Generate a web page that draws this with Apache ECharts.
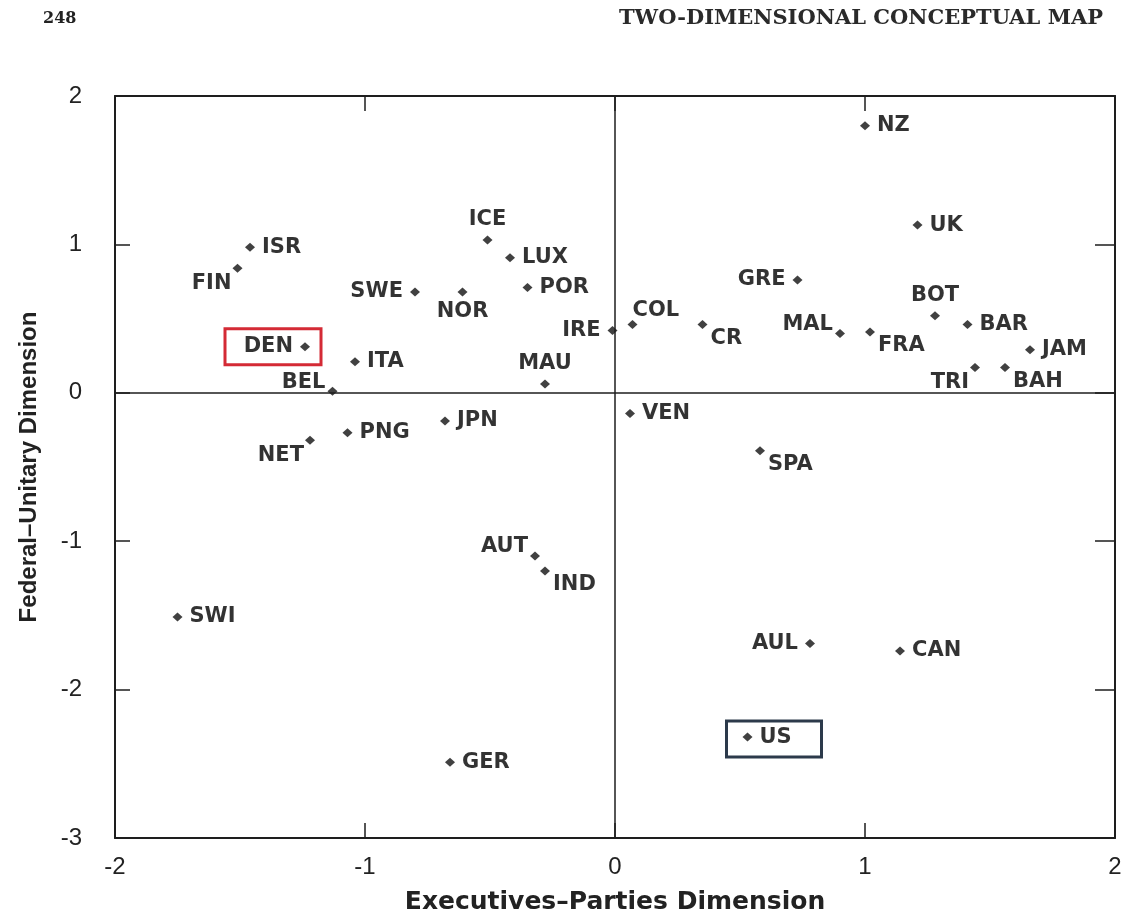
<!DOCTYPE html>
<html>
<head>
<meta charset="utf-8">
<script src="https://cdn.jsdelivr.net/npm/echarts@6/dist/echarts.min.js"></script>
<style>
html,body{margin:0;padding:0;background:#fff;}
#chart{width:1126px;height:916px;}
</style>
</head>
<body>
<div id="chart"></div>
<script>
// ---- data ----
const countries = ['NZ','UK','ICE','LUX','ISR','FIN','SWE','NOR','POR','GRE','BOT','COL','IRE','CR','MAL','FRA','BAR','JAM','TRI','BAH','DEN','ITA','BEL','MAU','VEN','JPN','PNG','NET','SPA','AUT','IND','SWI','AUL','CAN','US','GER'];
const execParties = [1.00,1.21,-0.51,-0.42,-1.46,-1.51,-0.80,-0.61,-0.35,0.73,1.28,0.07,-0.01,0.35,0.90,1.02,1.41,1.66,1.44,1.56,-1.24,-1.04,-1.13,-0.28,0.06,-0.68,-1.07,-1.22,0.58,-0.32,-0.28,-1.75,0.78,1.14,0.53,-0.66];
const fedUnitary = [1.80,1.13,1.03,0.91,0.98,0.84,0.68,0.68,0.71,0.76,0.52,0.46,0.42,0.46,0.40,0.41,0.46,0.29,0.17,0.17,0.31,0.21,0.01,0.06,-0.14,-0.19,-0.27,-0.32,-0.39,-1.10,-1.20,-1.51,-1.69,-1.74,-2.32,-2.49];
const labelSide = ['R','R','T','R','R','BL','L','B','R','L','T','TR','L','BR','TL','BR','R','R','BL','BR','L','R','TL','T','R','R','R','BL','BR','TL','BR','R','L','R','R','R'];
const xTicks = [-2,-1,0,1,2];
const yTicks = [-3,-2,-1,0,1,2];
const highlightRed = 'DEN';
const highlightDark = 'US';

// ---- layout helpers ----
const sideMap = {
  R:  {position:'right', distance:7, d:[0,0]},
  L:  {position:'left', distance:7, d:[0,0]},
  T:  {position:'top', distance:5, d:[0,0]},
  B:  {position:'bottom', distance:5, d:[0,0]},
  BL: {position:'left', distance:3, d:[2,15]},
  TL: {position:'left', distance:4, d:[2,-9]},
  BR: {position:'right', distance:3, d:[0,14]},
  TR: {position:'right', distance:3, d:[-8,-14]}
};

const points = countries.map((c,i)=>{
  const s = sideMap[labelSide[i]];
  return {
    name: c,
    value: [execParties[i], fedUnitary[i]],
    label: {position: s.position, distance: s.distance}
  };
});

const chart = echarts.init(document.getElementById('chart'), null, {renderer:'canvas'});
const axisCol = '#1e1e1e';
const tickFont = 'Liberation Sans';

const option = {
  backgroundColor:'#ffffff',
  animation:false,
  title:[
    {text:'248', left:38, top:6, textStyle:{fontFamily:'DejaVu Serif', fontWeight:'bold', fontSize:16, color:'#222'}},
    {text:'TWO-DIMENSIONAL CONCEPTUAL MAP', right:18, top:3, textStyle:{fontFamily:'DejaVu Serif', fontWeight:'bold', fontSize:21, color:'#2a2a2a'}}
  ],
  grid:{left:115, right:11, top:96, bottom:78, outerBoundsMode:'none', containLabel:false},
  xAxis:[
    {type:'value', position:'bottom', min:xTicks[0], max:xTicks[xTicks.length-1], interval:1,
     name:'Executives\u2013Parties Dimension', nameLocation:'middle', nameGap:52,
     nameTextStyle:{fontFamily:'DejaVu Sans', fontWeight:'bold', fontSize:25, color:'#222'},
     axisLine:{show:true, onZero:false, lineStyle:{color:axisCol, width:2}},
     axisTick:{show:true, inside:true, length:15, lineStyle:{color:axisCol, width:1.5}},
     axisLabel:{fontFamily:tickFont, fontSize:24, color:'#222', margin:17, showMinLabel:true, showMaxLabel:true},
     splitLine:{show:false}},
    {type:'value', position:'top', min:xTicks[0], max:xTicks[xTicks.length-1], interval:1,
     axisLine:{show:true, onZero:false, lineStyle:{color:axisCol, width:2}},
     axisTick:{show:true, inside:true, length:15, lineStyle:{color:axisCol, width:1.5}},
     axisLabel:{show:false}, splitLine:{show:false}}
  ],
  yAxis:[
    {type:'value', position:'left', min:yTicks[0], max:yTicks[yTicks.length-1], interval:1,
     name:'Federal\u2013Unitary Dimension', nameLocation:'middle', nameGap:74, nameRotate:90,
     nameTextStyle:{fontFamily:tickFont, fontWeight:'bold', fontSize:24, color:'#222'},
     axisLine:{show:true, onZero:false, lineStyle:{color:axisCol, width:2}},
     axisTick:{show:true, inside:true, length:15, lineStyle:{color:axisCol, width:1.5}},
     axisLabel:{fontFamily:tickFont, fontSize:24, color:'#222', margin:33},
     splitLine:{show:false}},
    {type:'value', position:'right', min:yTicks[0], max:yTicks[yTicks.length-1], interval:1,
     axisLine:{show:true, onZero:false, lineStyle:{color:axisCol, width:2}},
     axisTick:{show:true, inside:true, length:20, lineStyle:{color:axisCol, width:1.5}},
     axisLabel:{show:false}, splitLine:{show:false}}
  ],
  series:[{
    type:'scatter',
    xAxisIndex:0, yAxisIndex:0,
    symbol:'diamond',
    symbolSize:[10,9],
    itemStyle:{color:'#111'},
    label:{show:true, formatter:'{b}', fontFamily:'DejaVu Sans', fontWeight:'bold', fontSize:21, color:'#000'},
    labelLayout:function(params){
      const s = sideMap[labelSide[params.dataIndex]];
      return {dx:s.d[0], dy:s.d[1], hideOverlap:false};
    },
    data:points,
    markLine:{
      silent:true, symbol:'none', animation:false,
      label:{show:false},
      lineStyle:{color:axisCol, width:1.5, type:'solid'},
      data:[{xAxis:0},{yAxis:0}]
    }
  }]
};
chart.setOption(option);

// highlight boxes derived from the data points
function boxFor(name, padL, padR, padT, padB, color){
  const i = countries.indexOf(name);
  const p = chart.convertToPixel({xAxisIndex:0, yAxisIndex:0}, [execParties[i], fedUnitary[i]]);
  return {type:'rect', z:100, silent:true,
    shape:{x:p[0]-padL, y:p[1]-padT, width:padL+padR, height:padT+padB},
    style:{fill:'none', stroke:color, lineWidth:3}};
}
chart.setOption({graphic:[
  boxFor(highlightRed, 80, 16, 18, 18, '#d42a35'),
  boxFor(highlightDark, 21, 74, 16, 20, '#2c3a4b')
]});
</script>
</body>
</html>
